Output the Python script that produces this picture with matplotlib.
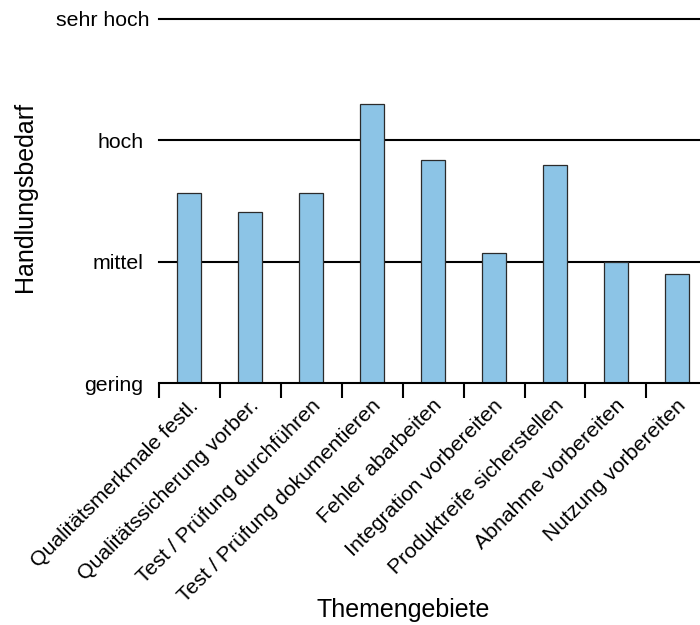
import numpy as np
import matplotlib.pyplot as plt

plt.rcParams['font.family'] = ['Liberation Sans', 'DejaVu Sans']

# Daten
themen = [
    'Qualitätsmerkmale festl.',
    'Qualitätssicherung vorber.',
    'Test / Prüfung durchführen',
    'Test / Prüfung dokumentieren',
    'Fehler abarbeiten',
    'Integration vorbereiten',
    'Produktreife sicherstellen',
    'Abnahme vorbereiten',
    'Nutzung vorbereiten',
]
bedarf = [2.57, 2.41, 2.57, 3.30, 2.84, 2.07, 2.80, 2.00, 1.90]
stufen = [1, 2, 3, 4]
stufen_namen = ['gering', 'mittel', 'hoch', 'sehr hoch']

fig = plt.figure(figsize=(7, 6.25), dpi=100)
# Achse ragt rechts ueber den Bildrand hinaus (wie im Original abgeschnitten)
ax = fig.add_axes([158.7 / 700, (625 - 383.3) / 625, 609.7 / 700, 364.3 / 625])

x = np.arange(len(themen))

# Hilfslinien hinter den Balken
for s in stufen[1:]:
    ax.axhline(s, color='black', linewidth=1.5, zorder=1, clip_on=False)

ax.bar(x, [b - stufen[0] for b in bedarf], bottom=stufen[0], width=0.4,
       color='#8CC4E6', edgecolor='#2b2b2b', linewidth=0.9, zorder=2)

ax.set_xlim(-0.5, 9.5)
ax.set_ylim(stufen[0], stufen[-1])

ax.set_yticks(stufen)
ax.set_yticklabels(stufen_namen, fontsize=15.3)
ax.tick_params(axis='y', length=0, pad=11)
# "sehr hoch" steht im Original etwas weiter rechts
lab = ax.get_yticklabels()[-1]
lab.set_x(0.01)

ax.set_xticks(x - 0.5)
ax.set_xticklabels([])
ax.tick_params(axis='x', length=11, width=1.5, direction='out')

for sp in ['left', 'right', 'top']:
    ax.spines[sp].set_visible(False)
ax.spines['bottom'].set_linewidth(1.5)

# schraege Beschriftung an den Balkenmitten
for xi, name in zip(x, themen):
    ax.text(xi + 0.1, stufen[0] - 0.16, name, rotation=45, rotation_mode='anchor',
            ha='right', va='center', fontsize=15.3, clip_on=False)

fig.text(25 / 700, 1 - 197 / 625, 'Handlungsbedarf', rotation=90,
         ha='center', va='center', fontsize=18)
fig.text(403 / 700, 1 - 610 / 625, 'Themengebiete', ha='center', va='center',
         fontsize=18)

fig.savefig('out.png', dpi=100)
